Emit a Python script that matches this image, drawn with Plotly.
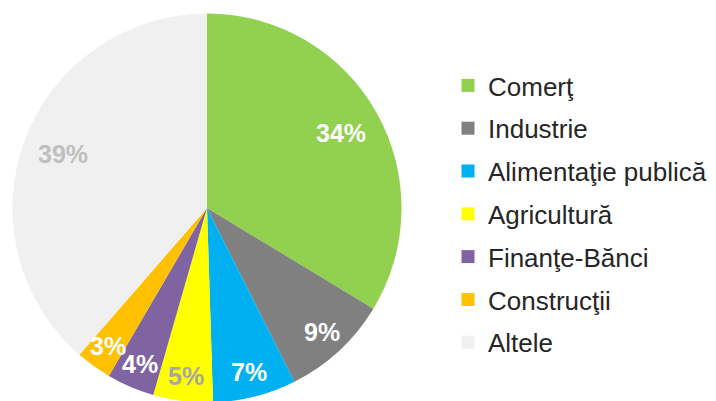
import math
import plotly.graph_objects as go

categories = ["Comerţ", "Industrie", "Alimentaţie publică", "Agricultură",
              "Finanţe-Bănci", "Construcţii", "Altele"]
values = [34, 9, 7, 5, 4, 3, 39]
colors = ["#92D050", "#808080", "#00B0F0", "#FFFF00", "#8064A2", "#FFC000", "#F0F0F0"]
label_colors = ["#FFFFFF", "#FFFFFF", "#FFFFFF", "#A6A6A6", "#FFFFFF", "#FFFFFF", "#BFBFBF"]

W, H = 716, 401
# page body has an 8px margin, so figure coords are screen coords minus 8
CX, CY, R = 199, 200, 194.5

fig = go.Figure()
fig.add_trace(go.Pie(
    labels=categories, values=values, sort=False, direction="clockwise",
    rotation=0, marker=dict(colors=colors, line=dict(width=0)),
    textinfo="none", showlegend=False, hoverinfo="label+value",
    domain=dict(x=[(CX - R) / W, (CX + R) / W], y=[1 - (CY + R) / H, 1 - (CY - R) / H]),
))

total = sum(values)
cum = 0
for v, col in zip(values, label_colors):
    mid = (cum + v / 2) / total * 2 * math.pi
    cum += v
    rf = 0.79 if v / total > 0.2 else 0.87
    px = CX + rf * R * math.sin(mid)
    py = CY - rf * R * math.cos(mid)
    fig.add_annotation(
        x=px / W, y=1 - py / H, xref="paper", yref="paper",
        text=f"{v}%", showarrow=False, xanchor="center", yanchor="middle",
        font=dict(family="Liberation Sans, Arial", size=25, color=col, weight="bold"),
    )

for i, (c, col) in enumerate(zip(categories, colors)):
    fig.add_trace(go.Scatter(
        x=[None], y=[None], mode="markers", name=c, legendgroup=f"g{i}",
        marker=dict(symbol="square", size=13, color=col),
        showlegend=True, hoverinfo="skip",
    ))

fig.update_layout(
    width=W, height=H, margin=dict(l=0, r=0, t=0, b=0),
    paper_bgcolor="white", plot_bgcolor="white",
    xaxis=dict(visible=False), yaxis=dict(visible=False),
    showlegend=True,
    legend=dict(x=440 / W, y=1 - 54 / H, xanchor="left", yanchor="top",
                traceorder="grouped", tracegroupgap=6, itemwidth=30,
                bgcolor="rgba(0,0,0,0)",
                font=dict(family="Liberation Sans, Arial", size=26, color="#262626")),
)
fig.write_html("out.html")
